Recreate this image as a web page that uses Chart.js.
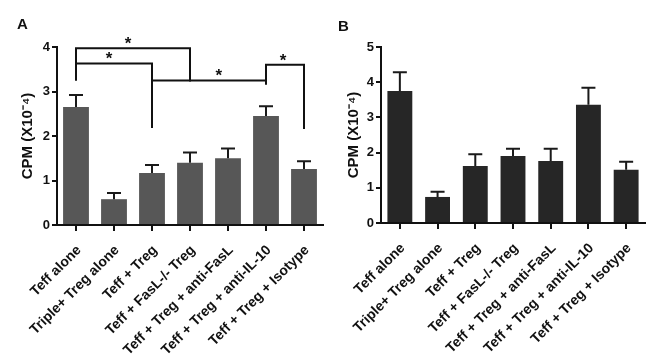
<!DOCTYPE html>
<html>
<head>
<meta charset="utf-8">
<script src="https://cdn.jsdelivr.net/npm/chart.js@4/dist/chart.umd.min.js"></script>
<style>
  html, body { margin: 0; padding: 0; background: #fff; }
  #wrap { position: relative; width: 650px; height: 361px; overflow: hidden; }
  canvas { position: absolute; top: 0; }
  .panel-letter { position: absolute; font: bold 15px "Liberation Sans", Arial, sans-serif; color: #111; }
</style>
</head>
<body>
<div id="wrap">
  <canvas id="chartA" width="330" height="361" style="left:0"></canvas>
  <canvas id="chartB" width="320" height="361" style="left:330px"></canvas>
  <div class="panel-letter" style="left:17px;top:15px">A</div>
  <div class="panel-letter" style="left:338px;top:17px">B</div>
</div>
<script>
// categories (same for both panels)
const groups = ['Teff alone', 'Triple+ Treg alone', 'Teff + Treg', 'Teff + FasL-/- Treg',
  'Teff + Treg + anti-FasL', 'Teff + Treg + anti-IL-10', 'Teff + Treg + Isotype'];

// panel A: mean and mean+SEM (CPM x10^-4)
const meanA = [2.65, 0.58, 1.17, 1.40, 1.50, 2.45, 1.26];
const upperA = [2.92, 0.72, 1.35, 1.63, 1.72, 2.67, 1.43];
const ticksA = [0, 1, 2, 3, 4];

// panel B
const meanB = [3.75, 0.74, 1.62, 1.90, 1.76, 3.36, 1.51];
const upperB = [4.28, 0.89, 1.95, 2.11, 2.11, 3.84, 1.74];
const ticksB = [0, 1, 2, 3, 4, 5];

// significance brackets in panel A (category index, value levels)
const bracketFrom = [0, 0, 2, 5];
const bracketTo = [3, 2, 5, 6];
const bracketTop = [3.97, 3.63, 3.25, 3.60];
const bracketLeftEnd = [3.27, 3.27, 2.20, 3.18];
const bracketRightEnd = [3.25, 2.20, 3.18, 2.18];
const bracketMark = ['*', '*', '*', '*'];
const bracketMarkAt = [1.37, 0.87, 3.76, 5.45];

const FONT = '"Liberation Sans", Arial, sans-serif';

const errorBars = {
  id: 'errorBars',
  afterDatasetsDraw(chart, args, opts) {
    const { ctx } = chart;
    const y = chart.scales.y;
    const bars = chart.getDatasetMeta(0).data;
    ctx.save();
    ctx.strokeStyle = opts.color;
    ctx.lineWidth = 2;
    bars.forEach((bar, i) => {
      const yt = y.getPixelForValue(opts.upper[i]);
      ctx.beginPath();
      ctx.moveTo(bar.x, bar.y);
      ctx.lineTo(bar.x, yt);
      ctx.moveTo(bar.x - 7, yt);
      ctx.lineTo(bar.x + 7, yt);
      ctx.stroke();
    });
    ctx.restore();
  }
};

const brackets = {
  id: 'brackets',
  afterDatasetsDraw(chart, args, opts) {
    if (!opts.show) return;
    const { ctx } = chart;
    const x = chart.scales.x, y = chart.scales.y;
    ctx.save();
    ctx.strokeStyle = '#111';
    ctx.lineWidth = 2;
    ctx.lineCap = 'square';
    ctx.fillStyle = '#111';
    ctx.font = 'bold 17px ' + FONT;
    ctx.textAlign = 'center';
    ctx.textBaseline = 'alphabetic';
    bracketFrom.forEach((f, i) => {
      const x1 = x.getPixelForValue(f), x2 = x.getPixelForValue(bracketTo[i]);
      const yt = y.getPixelForValue(bracketTop[i]);
      ctx.beginPath();
      ctx.moveTo(x1, y.getPixelForValue(bracketLeftEnd[i]));
      ctx.lineTo(x1, yt);
      ctx.lineTo(x2, yt);
      ctx.lineTo(x2, y.getPixelForValue(bracketRightEnd[i]));
      ctx.stroke();
      ctx.fillText(bracketMark[i], x.getPixelForValue(bracketMarkAt[i]), yt + 1);
    });
    ctx.restore();
  }
};

function makeChart(id, mean, upper, tickVals, cfg) {
  return new Chart(document.getElementById(id), {
    type: 'bar',
    data: {
      labels: groups,
      datasets: [{
        data: mean,
        backgroundColor: cfg.barColor,
        borderWidth: 0,
        barPercentage: cfg.barPct,
        categoryPercentage: 1
      }]
    },
    options: {
      responsive: false,
      animation: false,
      layout: { padding: { top: 47, right: cfg.padRight, left: 0, bottom: 0 } },
      plugins: {
        legend: { display: false },
        tooltip: { enabled: false },
        errorBars: { upper, color: '#1a1a1a' },
        brackets: { show: cfg.brackets }
      },
      scales: {
        x: {
          afterFit: s => { s.height = cfg.xHeight; },
          border: { display: true, color: '#111', width: 2 },
          grid: { offset: false, drawOnChartArea: false, drawTicks: true, tickLength: 6, color: '#111', lineWidth: 2 },
          ticks: { color: '#111', font: { family: FONT, size: 14, weight: 'bold' }, minRotation: 45, maxRotation: 45, padding: 11, labelOffset: 3, autoSkip: false }
        },
        y: {
          min: 0,
          max: tickVals[tickVals.length - 1],
          afterFit: s => { s.width = cfg.yWidth; },
          afterBuildTicks: s => { s.ticks = tickVals.map(v => ({ value: v })); },
          border: { display: true, color: '#111', width: 2 },
          grid: { drawOnChartArea: false, drawTicks: true, tickLength: 5, color: '#111', lineWidth: 2 },
          ticks: { color: '#111', font: { family: FONT, size: 13, weight: 'bold' }, padding: 2 },
          title: {
            display: true,
            text: 'CPM (X10\u207B\u2074)',
            color: '#111',
            font: { family: FONT, size: 15, weight: 'bold' },
            padding: { top: cfg.titlePad, bottom: 0 }
          }
        }
      }
    },
    plugins: [errorBars, brackets]
  });
}

makeChart('chartA', meanA, upperA, ticksA, {
  barColor: '#575757', barPct: 0.68, padRight: 7, xHeight: 136, yWidth: 57, titlePad: 19, brackets: true
});
makeChart('chartB', meanB, upperB, ticksB, {
  barColor: '#262626', barPct: 0.66, padRight: 5, xHeight: 138, yWidth: 51, titlePad: 14.5, brackets: false
});
</script>
</body>
</html>
